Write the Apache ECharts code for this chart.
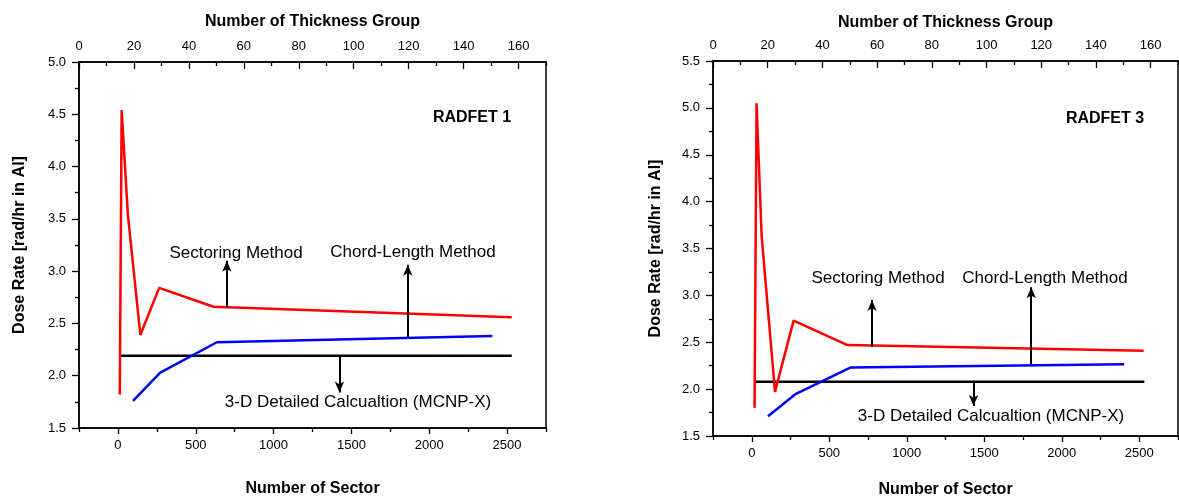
<!DOCTYPE html>
<html>
<head>
<meta charset="utf-8">
<script src="https://cdn.jsdelivr.net/npm/echarts@6/dist/echarts.min.js"></script>
<style>
html,body{margin:0;padding:0;background:#fff;}
#c{width:1179px;height:498px;}
</style>
</head>
<body>
<div id="c"></div>
<script>
// ---- tick arrays ----
const sectorTicks = [0, 500, 1000, 1500, 2000, 2500];
const sectorMinorTicks = [-250, 250, 750, 1250, 1750, 2250, 2750];
const thickTicks = [0, 20, 40, 60, 80, 100, 120, 140, 160];
const thickMinorTicks = [10, 30, 50, 70, 90, 110, 130, 150, 170];
const doseTicks1 = [1.5, 2.0, 2.5, 3.0, 3.5, 4.0, 4.5, 5.0];
const doseMinorTicks1 = [1.75, 2.25, 2.75, 3.25, 3.75, 4.25, 4.75];
const doseTicks3 = [1.5, 2.0, 2.5, 3.0, 3.5, 4.0, 4.5, 5.0, 5.5];
const doseMinorTicks3 = [1.75, 2.25, 2.75, 3.25, 3.75, 4.25, 4.75, 5.25];

// ---- RADFET 1 data ----
const sectorRed1 = [12, 24, 64, 144, 265, 614, 2530];
const doseRed1 = [1.82, 4.54, 3.54, 2.39, 2.84, 2.66, 2.56];
const sectorBlue1 = [97, 272, 636, 2405];
const doseBlue1 = [1.76, 2.03, 2.32, 2.38];
const sectorRef1 = [12, 2530];
const doseRef1 = [2.19, 2.19];
// annotation arrows [x, yFrom, yTo]
const arrows1 = [[700, 2.65, 3.10], [1862, 2.37, 3.06], [1423, 2.19, 1.84]];

// ---- RADFET 3 data ----
const sectorRed3 = [18, 31, 64, 150, 270, 618, 2528];
const doseRed3 = [1.80, 5.05, 3.63, 1.97, 2.73, 2.47, 2.41];
const sectorBlue3 = [105, 285, 636, 2403];
const doseBlue3 = [1.71, 1.95, 2.23, 2.265];
const sectorRef3 = [18, 2533];
const doseRef3 = [2.08, 2.08];
const arrows3 = [[776, 2.45, 2.95], [1803, 2.265, 3.086], [1431, 2.08, 1.82]];

const FONT = '"Liberation Sans", Arial, sans-serif';
const zip = (a, b) => a.map((v, i) => [v, b[i]]);
const plain = v => String(v);

function bottomAxis(grid, name, nameGap) {
  return [{
    type: 'value', gridIndex: grid, position: 'bottom', min: -250, max: 2750,
    axisLine: {show: true, onZero: false, lineStyle: {color: '#000', width: 1.5}},
    axisTick: {show: true, customValues: sectorTicks, length: 6, inside: false, lineStyle: {color: '#000', width: 1.3}},
    axisLabel: {show: true, customValues: sectorTicks, color: '#000', fontSize: 13, fontFamily: FONT, margin: 11, formatter: plain},
    splitLine: {show: false},
    name: name, nameLocation: 'middle', nameGap: nameGap,
    nameTextStyle: {color: '#000', fontSize: 16, fontWeight: 'bold', fontFamily: FONT}
  }, {
    type: 'value', gridIndex: grid, position: 'bottom', min: -250, max: 2750,
    axisLine: {show: false, onZero: false},
    axisTick: {show: true, customValues: sectorMinorTicks, length: 4, inside: false, lineStyle: {color: '#000', width: 1.3}},
    axisLabel: {show: false}, splitLine: {show: false}
  }];
}
function topAxis(grid, name, nameGap) {
  return [{
    type: 'value', gridIndex: grid, position: 'top', min: 0, max: 170,
    axisLine: {show: true, onZero: false, lineStyle: {color: '#000', width: 1.5}},
    axisTick: {show: true, customValues: thickTicks, length: 7, inside: true, lineStyle: {color: '#000', width: 1.3}},
    axisLabel: {show: true, customValues: thickTicks, color: '#000', fontSize: 13, fontFamily: FONT, margin: 9, formatter: plain},
    splitLine: {show: false},
    name: name, nameLocation: 'middle', nameGap: nameGap,
    nameTextStyle: {color: '#000', fontSize: 16, fontWeight: 'bold', fontFamily: FONT}
  }, {
    type: 'value', gridIndex: grid, position: 'top', min: 0, max: 170,
    axisLine: {show: false, onZero: false},
    axisTick: {show: true, customValues: thickMinorTicks, length: 4, inside: true, lineStyle: {color: '#000', width: 1.3}},
    axisLabel: {show: false}, splitLine: {show: false}
  }];
}
function leftAxis(grid, min, max, ticks, minor, nameGap) {
  return [{
    type: 'value', gridIndex: grid, position: 'left', min: min, max: max,
    axisLine: {show: true, onZero: false, lineStyle: {color: '#000', width: 1.5}},
    axisTick: {show: true, customValues: ticks, length: 7, inside: false, lineStyle: {color: '#000', width: 1.3}},
    axisLabel: {show: true, customValues: ticks, color: '#000', fontSize: 13, fontFamily: FONT, margin: 13,
      formatter: v => Number(v).toFixed(1)},
    splitLine: {show: false},
    name: 'Dose Rate [rad/hr in Al]', nameLocation: 'middle', nameGap: nameGap, nameRotate: 90,
    nameTextStyle: {color: '#000', fontSize: 16, fontWeight: 'bold', fontFamily: FONT}
  }, {
    type: 'value', gridIndex: grid, position: 'left', min: min, max: max,
    axisLine: {show: false, onZero: false},
    axisTick: {show: true, customValues: minor, length: 4, inside: false, lineStyle: {color: '#000', width: 1.3}},
    axisLabel: {show: false}, splitLine: {show: false}
  }];
}

function lineSeries(xi, yi, xs, ys, color, extra) {
  return Object.assign({
    type: 'line', xAxisIndex: xi, yAxisIndex: yi, data: zip(xs, ys),
    showSymbol: false, symbol: 'none', silent: true,
    lineStyle: {color: color, width: 2.5}
  }, extra || {});
}
function arrowMark(arr) {
  return {
    silent: true, symbol: ['none', 'arrow'], symbolSize: [7, 11],
    lineStyle: {color: '#000', width: 2, type: 'solid'},
    itemStyle: {color: '#000'},
    label: {show: false}, emphasis: {disabled: true},
    data: arr.map(a => [{coord: [a[0], a[1]]}, {coord: [a[0], a[2]]}])
  };
}

const chart = echarts.init(document.getElementById('c'), null, {renderer: 'canvas'});
const option = {
  animation: false,
  backgroundColor: '#fff',
  grid: [
    {left: 79, top: 62, width: 467, height: 366, show: true, borderColor: '#000', borderWidth: 1.5, backgroundColor: 'transparent', containLabel: false, outerBoundsMode: 'none'},
    {left: 713, top: 61, width: 465, height: 375, show: true, borderColor: '#000', borderWidth: 1.5, backgroundColor: 'transparent', containLabel: false, outerBoundsMode: 'none'}
  ],
  xAxis: [].concat(
    bottomAxis(0, 'Number of Sector', 53), topAxis(0, 'Number of Thickness Group', 32),
    bottomAxis(1, 'Number of Sector', 46), topAxis(1, 'Number of Thickness Group', 30)
  ),
  yAxis: [].concat(
    leftAxis(0, 1.5, 5.0, doseTicks1, doseMinorTicks1, 51),
    leftAxis(1, 1.5, 5.5, doseTicks3, doseMinorTicks3, 49)
  ),
  series: [
    lineSeries(0, 0, sectorRef1, doseRef1, '#000', {markLine: arrowMark(arrows1)}),
    lineSeries(0, 0, sectorBlue1, doseBlue1, '#0000ff'),
    lineSeries(0, 0, sectorRed1, doseRed1, '#ff0000'),
    lineSeries(4, 2, sectorRef3, doseRef3, '#000', {markLine: arrowMark(arrows3)}),
    lineSeries(4, 2, sectorBlue3, doseBlue3, '#0000ff'),
    lineSeries(4, 2, sectorRed3, doseRed3, '#ff0000')
  ],
  graphic: [
    {type: 'text', x: 236, y: 253, style: {text: 'Sectoring Method', font: '17px ' + FONT, fill: '#000', align: 'center', verticalAlign: 'middle'}},
    {type: 'text', x: 413, y: 252, style: {text: 'Chord-Length Method', font: '17px ' + FONT, fill: '#000', align: 'center', verticalAlign: 'middle'}},
    {type: 'text', x: 358, y: 402, style: {text: '3-D Detailed Calcualtion (MCNP-X)', font: '17px ' + FONT, fill: '#000', align: 'center', verticalAlign: 'middle'}},
    {type: 'text', x: 472, y: 118, style: {text: 'RADFET 1', font: 'bold 16px ' + FONT, fill: '#000', align: 'center', verticalAlign: 'middle'}},
    {type: 'text', x: 878, y: 278, style: {text: 'Sectoring Method', font: '17px ' + FONT, fill: '#000', align: 'center', verticalAlign: 'middle'}},
    {type: 'text', x: 1045, y: 278, style: {text: 'Chord-Length Method', font: '17px ' + FONT, fill: '#000', align: 'center', verticalAlign: 'middle'}},
    {type: 'text', x: 991, y: 416, style: {text: '3-D Detailed Calcualtion (MCNP-X)', font: '17px ' + FONT, fill: '#000', align: 'center', verticalAlign: 'middle'}},
    {type: 'text', x: 1105, y: 119, style: {text: 'RADFET 3', font: 'bold 16px ' + FONT, fill: '#000', align: 'center', verticalAlign: 'middle'}}
  ]
};
chart.setOption(option);
</script>
</body>
</html>
